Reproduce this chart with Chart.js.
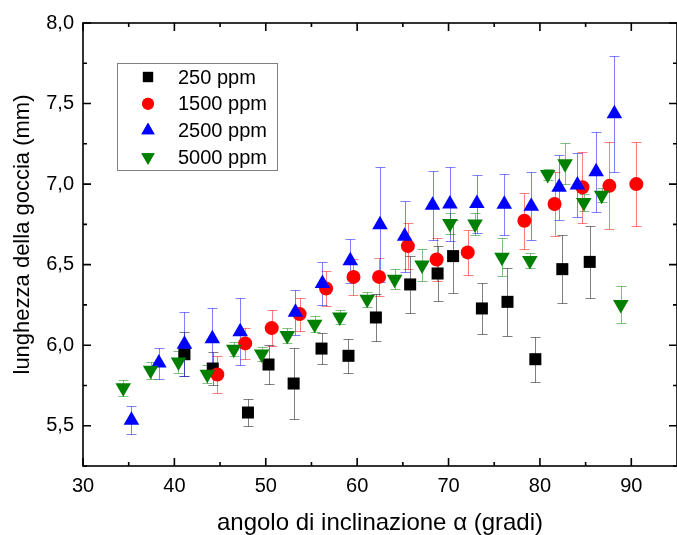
<!DOCTYPE html>
<html>
<head>
<meta charset="utf-8">
<script src="https://cdn.jsdelivr.net/npm/chart.js@4.4.1/dist/chart.umd.min.js"></script>
<style>
  html, body { margin: 0; padding: 0; background: #fff; overflow: hidden; }
  #wrap { width: 686px; height: 535px; }
</style>
</head>
<body>
<div id="wrap"><canvas id="drop-chart" width="686" height="535"></canvas></div>
<script>
// series names
var seriesNames = ['250 ppm', '1500 ppm', '2500 ppm', '5000 ppm'];

// 250 ppm
var angle250  = [41.1, 44.2, 48.05, 50.3, 53.05, 56.1, 59.05, 62.05, 65.8, 68.8, 70.5, 73.65, 76.45, 79.5, 82.45, 85.45];
var length250 = [5.944, 5.855, 5.582, 5.88, 5.762, 5.979, 5.934, 6.172, 6.377, 6.445, 6.553, 6.228, 6.269, 5.913, 6.472, 6.517];
var err250    = [0.138, 0.103, 0.086, 0.124, 0.22, 0.097, 0.107, 0.143, 0.178, 0.17, 0.226, 0.16, 0.212, 0.139, 0.21, 0.222];

// 1500 ppm
var angle1500  = [44.7, 47.75, 50.65, 53.7, 56.6, 59.6, 62.4, 65.55, 68.7, 72.1, 78.3, 81.6, 84.65, 87.6, 90.55];
var length1500 = [5.818, 6.011, 6.106, 6.193, 6.352, 6.424, 6.424, 6.615, 6.532, 6.576, 6.772, 6.876, 6.98, 6.989, 7.0];
var err1500    = [0.116, 0.097, 0.112, 0.102, 0.107, 0.113, 0.12, 0.141, 0.136, 0.14, 0.174, 0.2, 0.22, 0.27, 0.26];

// 2500 ppm
var angle2500  = [35.3, 38.3, 41.1, 44.15, 47.2, 53.25, 56.2, 59.25, 62.5, 65.2, 68.25, 70.15, 73.1, 76.1, 79.05, 82.1, 84.1, 86.15, 88.15];
var length2500 = [5.534, 5.889, 6.006, 6.04, 6.084, 6.204, 6.383, 6.524, 6.747, 6.676, 6.868, 6.877, 6.879, 6.875, 6.863, 6.98, 6.994, 7.076, 7.437];
var err2500    = [0.087, 0.096, 0.2, 0.19, 0.21, 0.14, 0.135, 0.135, 0.357, 0.22, 0.215, 0.23, 0.18, 0.19, 0.21, 0.2, 0.2, 0.25, 0.36];

// 5000 ppm
var angle5000  = [34.4, 37.4, 40.45, 43.6, 46.5, 49.55, 52.35, 55.35, 58.1, 61.1, 64.1, 67.1, 70.15, 72.9, 75.85, 78.9, 80.85, 82.75, 84.8, 86.75, 88.85];
var length5000 = [5.735, 5.845, 5.895, 5.82, 5.975, 5.945, 6.06, 6.13, 6.175, 6.285, 6.41, 6.498, 6.755, 6.753, 6.546, 6.525, 7.06, 7.126, 6.885, 6.931, 6.253];
var err5000    = [0.05, 0.053, 0.07, 0.057, 0.045, 0.045, 0.045, 0.05, 0.045, 0.045, 0.063, 0.098, 0.067, 0.07, 0.117, 0.045, 0.035, 0.126, 0.055, 0.045, 0.115];

// axes
var xTicks = [30, 40, 50, 60, 70, 80, 90];
var xMinor = [35, 45, 55, 65, 75, 85];
var yTicks = [5.5, 6.0, 6.5, 7.0, 7.5, 8.0];
var yMinor = [5.25, 5.75, 6.25, 6.75, 7.25, 7.75];
var yTitle = 'lunghezza della goccia (mm)';
var xTitle = 'angolo di inclinazione α (gradi)';

var FONT = "'Liberation Sans', Arial, Helvetica, sans-serif";
Chart.defaults.font.family = FONT;
Chart.defaults.color = '#000';

function toPoints(xs, ys) {
    return xs.map(function(x, i) { return { x: x, y: ys[i] }; });
}

// error bars, drawn under the markers
var errorBars = {
    id: 'errorBars',
    beforeDatasetsDraw: function(chart) {
        var ctx = chart.ctx, xs = chart.scales.x, ys = chart.scales.y, a = chart.chartArea;
        ctx.save();
        ctx.beginPath();
        ctx.rect(a.left, a.top, a.right - a.left, a.bottom - a.top);
        ctx.clip();
        ctx.lineWidth = 1;
        chart.data.datasets.forEach(function(ds) {
            ctx.strokeStyle = ds.errorColor;
            ds.data.forEach(function(p, j) {
                var px = Math.round(xs.getPixelForValue(p.x)) + 0.5;
                var top = Math.round(ys.getPixelForValue(p.y + ds.errors[j])) + 0.5;
                var bot = Math.round(ys.getPixelForValue(p.y - ds.errors[j])) + 0.5;
                ctx.beginPath();
                ctx.moveTo(px, top); ctx.lineTo(px, bot);
                ctx.moveTo(px - 5, top); ctx.lineTo(px + 5, top);
                ctx.moveTo(px - 5, bot); ctx.lineTo(px + 5, bot);
                ctx.stroke();
            });
        });
        ctx.restore();
    }
};

// box around the plot with inward ticks on all sides, plus the y title
var frame = {
    id: 'frame',
    afterDraw: function(chart) {
        var ctx = chart.ctx, xs = chart.scales.x, ys = chart.scales.y, a = chart.chartArea;
        ctx.save();
        ctx.strokeStyle = '#000';
        ctx.lineWidth = 1.6;
        ctx.strokeRect(a.left, a.top, a.right - a.left, a.bottom - a.top);
        ctx.beginPath();
        function xt(v, len) {
            var px = xs.getPixelForValue(v);
            ctx.moveTo(px, a.bottom); ctx.lineTo(px, a.bottom - len);
            ctx.moveTo(px, a.top); ctx.lineTo(px, a.top + len);
        }
        function yt(v, len) {
            var py = ys.getPixelForValue(v);
            ctx.moveTo(a.left, py); ctx.lineTo(a.left + len, py);
            ctx.moveTo(a.right, py); ctx.lineTo(a.right - len, py);
        }
        xTicks.forEach(function(v) { xt(v, 8); });
        xMinor.forEach(function(v) { xt(v, 4); });
        yTicks.forEach(function(v) { yt(v, 8); });
        yMinor.forEach(function(v) { yt(v, 4); });
        ctx.stroke();

        // y title sits a little above the middle of the axis, as in the original
        ctx.translate(23, (a.top + a.bottom) / 2 - 10);
        ctx.rotate(-Math.PI / 2);
        ctx.font = '22px ' + FONT;
        ctx.fillStyle = '#000';
        ctx.textAlign = 'center';
        ctx.textBaseline = 'middle';
        ctx.fillText(yTitle, 0, 0);
        ctx.restore();
    }
};

// legend box inside the plot
var boxLegend = {
    id: 'boxLegend',
    afterDraw: function(chart) {
        var ctx = chart.ctx, a = chart.chartArea;
        var left = a.left + 34, top = a.top + 40, w = 160, h = 107;
        ctx.save();
        ctx.strokeStyle = '#808080';
        ctx.lineWidth = 1;
        ctx.strokeRect(left + 0.5, top + 0.5, w, h);
        ctx.font = '20px ' + FONT;
        ctx.textBaseline = 'middle';
        ctx.textAlign = 'left';
        chart.data.datasets.forEach(function(ds, i) {
            var cy = top + 14 + i * 26.7;
            ctx.fillStyle = ds.backgroundColor;
            Chart.helpers.drawPoint(ctx, {
                pointStyle: ds.pointStyle,
                rotation: ds.rotation || 0,
                radius: ds.pointRadius * 0.85,
                borderWidth: 0
            }, left + 31, cy);
            ctx.fill();
            ctx.fillStyle = '#000';
            ctx.fillText(ds.label, left + 61, cy + 1);
        });
        ctx.restore();
    }
};

var ctx = document.getElementById('drop-chart').getContext('2d');
var dropChart = new Chart(ctx, {
    type: 'scatter',
    data: {
        datasets: [
            {
                label: seriesNames[0],
                data: toPoints(angle250, length250),
                errors: err250,
                errorColor: 'rgba(0, 0, 0, 0.5)',
                pointStyle: 'rect',
                pointRadius: 8.5,
                backgroundColor: '#000000',
                borderWidth: 0,
                order: 4
            },
            {
                label: seriesNames[1],
                data: toPoints(angle1500, length1500),
                errors: err1500,
                errorColor: 'rgba(255, 0, 0, 0.5)',
                pointStyle: 'circle',
                pointRadius: 7,
                backgroundColor: '#ff0000',
                borderWidth: 0,
                order: 3
            },
            {
                label: seriesNames[2],
                data: toPoints(angle2500, length2500),
                errors: err2500,
                errorColor: 'rgba(0, 0, 255, 0.5)',
                pointStyle: 'triangle',
                pointRadius: 9,
                backgroundColor: '#0000ff',
                borderWidth: 0,
                order: 2
            },
            {
                label: seriesNames[3],
                data: toPoints(angle5000, length5000),
                errors: err5000,
                errorColor: 'rgba(0, 128, 0, 0.5)',
                pointStyle: 'triangle',
                rotation: 180,
                pointRadius: 9,
                backgroundColor: '#008000',
                borderWidth: 0,
                order: 1
            }
        ]
    },
    options: {
        responsive: false,
        animation: false,
        devicePixelRatio: 1,
        layout: { padding: { top: 23, right: 0, bottom: 0, left: 0 } },
        plugins: {
            legend: { display: false },
            tooltip: { enabled: false }
        },
        scales: {
            x: {
                type: 'linear',
                min: 30,
                max: 95,
                grid: { display: false, drawTicks: false },
                border: { display: false },
                afterBuildTicks: function(scale) {
                    scale.ticks = xTicks.map(function(v) { return { value: v }; });
                },
                afterFit: function(scale) { scale.height = 69; },
                ticks: { font: { size: 20 }, color: '#000', padding: 8, maxRotation: 0 },
                title: {
                    display: true,
                    text: xTitle,
                    font: { size: 24, lineHeight: 1 },
                    color: '#000',
                    padding: { top: 0, bottom: 0 }
                }
            },
            y: {
                min: 5.25,
                max: 8.0,
                grid: { display: false, drawTicks: false },
                border: { display: false },
                afterBuildTicks: function(scale) {
                    scale.ticks = yTicks.map(function(v) { return { value: v }; });
                },
                afterFit: function(scale) { scale.width = 83; },
                ticks: {
                    font: { size: 20 },
                    color: '#000',
                    padding: 9,
                    callback: function(v) { return v.toFixed(1).replace('.', ','); }
                }
            }
        }
    },
    plugins: [errorBars, frame, boxLegend]
});
</script>
</body>
</html>
